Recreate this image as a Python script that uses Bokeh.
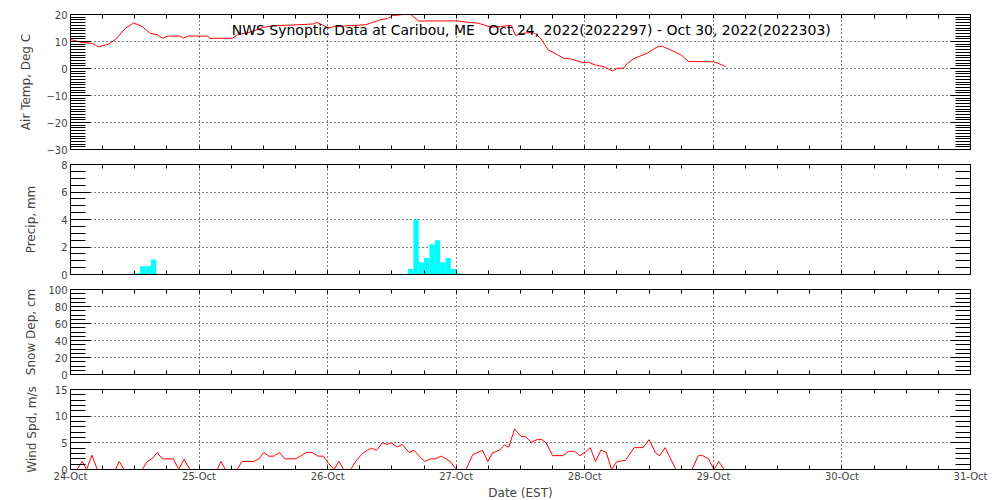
from bokeh.plotting import figure
from bokeh.models import (Range1d, LinearAxis, FixedTicker, SingleIntervalTicker,
                          Label, ColumnDataSource, CustomLabelingPolicy)
from bokeh.layouts import column
from bokeh.embed import file_html
from bokeh.resources import INLINE

# ---------------- data ----------------
title_text = "NWS Synoptic Data at Caribou, ME \u00a0 Oct 24, 2022(2022297) - Oct 30, 2022(2022303)"
day_labels = ["24-Oct", "25-Oct", "26-Oct", "27-Oct", "28-Oct", "29-Oct", "30-Oct", "31-Oct"]
day_hours = [0, 24, 48, 72, 96, 120, 144, 168]
six_hour_ticks = [6, 12, 18, 30, 36, 42, 54, 60, 66, 78, 84, 90, 102, 108, 114, 126, 132, 138, 150, 156, 162]

# hours since 24-Oct 00 EST
temp_hours = [0.0, 1.9, 4.1, 5.2, 7.1, 8.4, 10.3, 11.8, 13.4, 14.9, 16.2, 17.2, 18.1, 20.5, 21.1, 22.0,
              25.6, 26.0, 30.2, 31.2, 33.2, 36.0, 37.7, 42.4, 45.4, 45.9, 47.0, 48.2, 49.1, 55.1, 56.0,
              57.9, 59.2, 60.1, 61.2, 62.0, 63.5, 65.0, 72.2, 74.7, 76.0, 77.1, 78.4, 80.3, 81.8, 82.3,
              83.1, 84.0, 85.3, 86.1, 86.8, 87.7, 89.2, 90.9, 92.0, 93.3, 95.6, 96.7, 98.0, 99.5, 101.2,
              102.1, 103.2, 103.9, 105.1, 107.7, 109.7, 110.5, 112.0, 113.9, 115.4, 120.0, 120.8, 122.3]
temp_c = [10.8, 9.7, 9.3, 8.0, 9.0, 10.8, 15.0, 16.9, 15.5, 13.0, 12.5, 11.2, 12.0, 12.0, 11.3, 12.0,
          12.0, 11.2, 11.2, 12.5, 13.3, 15.2, 15.8, 16.2, 16.5, 17.1, 16.2, 15.0, 15.5, 16.2, 16.8,
          18.1, 18.5, 19.6, 19.8, 20.0, 20.0, 17.6, 17.6, 17.0, 16.8, 16.2, 15.3, 15.5, 15.9, 15.9,
          12.2, 12.9, 13.2, 13.4, 12.8, 11.3, 6.9, 5.1, 3.8, 3.6, 2.2, 2.3, 1.3, 0.7, -0.9,
          0.1, 0.1, 1.8, 3.6, 5.7, 8.2, 8.2, 6.9, 5.1, 2.6, 2.5, 2.0, 0.7]

precip_hours = [12, 13, 14, 15, 63, 64, 65, 66, 67, 68, 69, 70, 71, 72]
precip_mm = [0.1, 0.6, 0.6, 1.1, 0.4, 4.0, 0.9, 1.2, 2.2, 2.5, 0.9, 1.2, 0.4, 0.1]

snow_hours = []
snow_cm = []

wind_hours = [0, 1.2, 2.2, 3, 4, 5, 8.4, 9.1, 10, 13.4, 14.3, 15.2, 16.2, 17.1, 19.2, 20.2, 21.2, 22.3,
              27.4, 28.1, 28.9, 31.1, 32, 34.2, 35.2, 36.1, 37, 38, 39, 40, 42, 42.9, 44, 45.1, 46.2,
              47.2, 48.2, 49.2, 50.1, 51, 52.3, 53.2, 54.5, 55.4, 56.2, 57.1, 58.2, 59.1, 59.9, 61,
              61.9, 63.2, 64.1, 66.1, 67.2, 68.1, 69.2, 70.9, 72, 73.8, 75.1, 76.9, 77.9, 78.8, 80,
              81, 81.8, 82.9, 84.1, 84.9, 86, 87.1, 88, 88.8, 90, 91.9, 93, 94.1, 95.1, 96.1, 97, 98,
              99, 100, 101, 102, 103.6, 105.2, 106.9, 108, 109.2, 110, 111, 113, 116, 117.2, 118,
              119.1, 120.1, 121, 122]
wind_ms = [0, 0, 1.5, 0, 2.7, 0, 0, 1.5, 0, 0, 1.5, 2.0, 3.2, 2.0, 2.0, 0, 1.9, 0,
           0, 1.5, 0, 0, 1.5, 1.5, 2.0, 3.2, 2.5, 2.5, 3.2, 2.0, 2.0, 2.5, 3.2, 3.2, 2.5,
           2.5, 1.1, 0, 1.5, 0, 0, 1.5, 3.0, 3.6, 4.0, 3.6, 5.0, 4.7, 5.0, 4.2,
           4.7, 3.2, 3.6, 1.5, 2.0, 2.0, 2.5, 1.5, 0, 0, 2.8, 3.6, 1.5, 3.1, 3.6,
           4.6, 4.2, 7.6, 6.2, 6.2, 5.1, 5.6, 5.6, 5.0, 2.6, 2.6, 3.4, 3.4, 2.6, 3.25, 4.1, 1.5,
           3.6, 3.25, 0, 1.5, 1.7, 4.1, 4.1, 5.6, 3.1, 2.6, 4.1, 0, 0, 2.6, 2.6,
           2.0, 0, 1.5, 0]

# ---------------- styling ----------------
FONT = "DejaVu Sans"
FRAME_W = 900


def x_ticker():
    return FixedTicker(ticks=day_hours, minor_ticks=six_hour_ticks)


def no_labels():
    return CustomLabelingPolicy(code="""
        for (let i = 0; i < indices.size; i++) { indices.unset(i) }
        return indices
    """)


def make_panel(frame_h, b_top, b_bottom, yr, interval, nminor, ylabel, lab_standoff, last=False):
    p = figure(frame_width=FRAME_W, frame_height=frame_h,
               x_range=Range1d(0, 168), y_range=Range1d(*yr),
               output_backend="svg", toolbar_location=None,
               min_border_left=70, min_border_right=22,
               min_border_top=b_top, min_border_bottom=b_bottom,
               background_fill_color="white", border_fill_color="white",
               outline_line_color="black", outline_line_width=1)
    yt = SingleIntervalTicker(interval=interval, num_minor_ticks=nminor)

    # left axis
    ya = p.yaxis[0]
    ya.ticker = yt
    ya.axis_label = ylabel
    ya.axis_label_text_font = FONT
    ya.axis_label_text_font_size = "12px"
    ya.axis_label_text_font_style = "normal"
    ya.axis_label_standoff = lab_standoff
    ya.major_label_text_font = FONT
    ya.major_label_text_font_size = "10px"
    ya.major_label_standoff = 3
    ya.major_tick_in = 20
    ya.major_tick_out = 0
    ya.minor_tick_in = 15
    ya.minor_tick_out = 0
    ya.axis_line_color = "black"

    # right axis
    ra = LinearAxis(ticker=yt, major_label_policy=no_labels(), major_label_standoff=0,
                    major_label_text_font_size="1px",
                    major_tick_in=20, major_tick_out=0, minor_tick_in=15, minor_tick_out=0)
    p.add_layout(ra, "right")

    # bottom axis
    xa = p.xaxis[0]
    xa.ticker = x_ticker()
    xa.major_tick_in = 4
    xa.major_tick_out = 0
    xa.minor_tick_in = 4
    xa.minor_tick_out = 0
    if last:
        xa.major_label_overrides = {h: lab for h, lab in zip(day_hours, day_labels)}
        xa.major_label_text_font = FONT
        xa.major_label_text_font_size = "10px"
        xa.major_label_standoff = 1
        xa.axis_label = "Date (EST)"
        xa.axis_label_text_font = FONT
        xa.axis_label_text_font_size = "12px"
        xa.axis_label_text_font_style = "normal"
        xa.axis_label_standoff = 1
    else:
        xa.major_label_policy = no_labels()
        xa.major_label_text_font_size = "1px"
        xa.major_label_standoff = 0

    # top axis
    ta = LinearAxis(ticker=x_ticker(), major_label_policy=no_labels(), major_label_standoff=0,
                    major_label_text_font_size="1px",
                    major_tick_in=4, major_tick_out=0, minor_tick_in=4, minor_tick_out=0)
    p.add_layout(ta, "above")

    # grids
    p.xgrid.ticker = x_ticker()
    p.ygrid.ticker = yt
    for g in (p.xgrid[0], p.ygrid[0]):
        g.grid_line_color = "black"
        g.grid_line_dash = "1 3"
        g.grid_line_width = 1
        g.grid_line_alpha = 1.0
    return p


p1 = make_panel(135, 14, 7, (-30, 20), 10, 10, "Air Temp, Deg C", 10)
p1.line(temp_hours, temp_c, line_color="red", line_width=1)
p1.add_layout(Label(x=86, y=14.4, text=title_text, text_align="center", text_baseline="middle",
                    text_font=FONT, text_font_size="14px", text_color="black"))

p2 = make_panel(110, 8, 7, (0, 8), 2, 4, "Precip, mm", 20)
src = ColumnDataSource(dict(x=[h + 0.5 for h in precip_hours], top=precip_mm))
p2.vbar(x="x", top="top", bottom=0, width=1, source=src, fill_color="#00ffff", line_color=None)

p3 = make_panel(85, 8, 7, (0, 100), 20, 4, "Snow Dep, cm", 7)
p3.line(snow_hours, snow_cm, line_color="red", line_width=1)

p4 = make_panel(80, 8, 30, (0, 15), 5, 5, "Wind Spd, m/s", 13, last=True)
p4.line(wind_hours, wind_ms, line_color="red", line_width=1)

layout = column(p1, p2, p3, p4)
open("out.html", "w").write(file_html(layout, INLINE))
